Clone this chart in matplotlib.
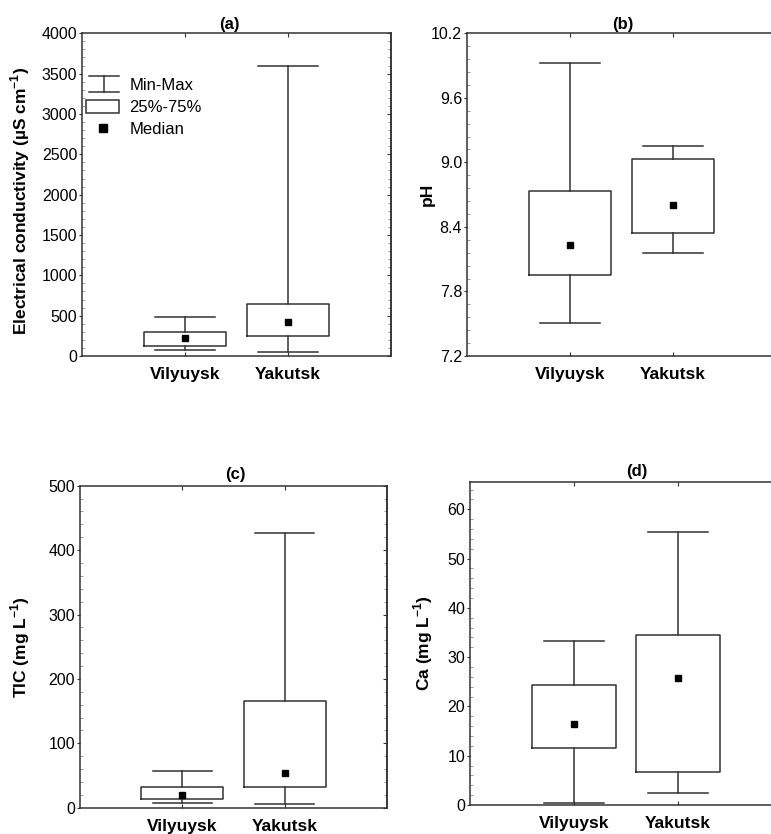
import matplotlib
matplotlib.use('Agg')
import matplotlib.pyplot as plt
from matplotlib.legend_handler import HandlerBase
from matplotlib.lines import Line2D
from matplotlib.patches import Rectangle
from matplotlib.ticker import MultipleLocator, AutoMinorLocator

plt.rcParams['font.family'] = ['Liberation Sans', 'DejaVu Sans']
plt.rcParams['mathtext.fontset'] = 'custom'
plt.rcParams['mathtext.rm'] = 'Liberation Sans'
plt.rcParams['mathtext.bf'] = 'Liberation Sans:bold'

### data
sites = ['Vilyuysk', 'Yakutsk']

ec_min = [70, 50]
ec_q1 = [124, 248]
ec_med = [219, 425]
ec_q3 = [297, 641]
ec_max = [480, 3595]

ph_min = [7.51, 8.16]
ph_q1 = [7.95, 8.34]
ph_med = [8.23, 8.60]
ph_q3 = [8.73, 9.03]
ph_max = [9.92, 9.15]

tic_min = [6.7, 6.2]
tic_q1 = [13.0, 31.7]
tic_med = [19.7, 53.4]
tic_q3 = [32.6, 165]
tic_max = [56.5, 427]

ca_min = [0.34, 2.4]
ca_q1 = [11.5, 6.6]
ca_med = [16.5, 25.8]
ca_q3 = [24.3, 34.5]
ca_max = [33.3, 55.3]

LC = '#333333'
TICKSIZE = 11.5
LABELSIZE = 12.5


class WhiskerHandler(HandlerBase):
  """ Draw the I-shaped Min-Max symbol in the legend """
  def create_artists(self, legend, orig_handle, xdescent, ydescent,
                     width, height, fontsize, trans):
    x0, x1 = -xdescent + 0.08 * width, -xdescent + width
    y0, y1 = -ydescent - 0.1 * height, -ydescent + 1.1 * height
    xm = (x0 + x1) / 2
    arts = [Line2D([x0, x1], [y0, y0]), Line2D([x0, x1], [y1, y1]),
            Line2D([xm, xm], [y0, y1])]
    for a in arts:
      a.set_color(LC)
      a.set_linewidth(1.1)
      a.set_transform(trans)
    return arts


def draw_panel(ax, lo, q1, med, q3, hi):
  stats = []
  for i in range(len(sites)):
    stats.append({'whislo': lo[i], 'q1': q1[i], 'med': med[i],
                  'q3': q3[i], 'whishi': hi[i], 'label': sites[i]})
  ax.bxp(stats, positions=[1, 2], widths=0.8, capwidths=0.58,
         showfliers=False,
         boxprops=dict(color=LC, linewidth=1.1),
         whiskerprops=dict(color=LC, linewidth=1.1),
         capprops=dict(color=LC, linewidth=1.1),
         medianprops=dict(linewidth=0))
  ax.plot([1, 2], med, 's', color='black', markersize=4, linestyle='none')
  ax.set_xlim(0, 3)
  ax.set_xticks([1, 2])
  ax.set_xticklabels(sites, fontweight='bold', fontsize=LABELSIZE)
  ax.tick_params(axis='x', direction='in', length=3, top=True, pad=8,
                 color=LC)
  ax.tick_params(axis='y', which='major', direction='out', length=2.5,
                 pad=1, labelsize=TICKSIZE, color=LC)
  ax.tick_params(axis='y', which='minor', direction='in', length=2,
                 color='#888888')
  ax.yaxis.set_minor_locator(AutoMinorLocator(5))
  for s in ax.spines.values():
    s.set_color(LC)
    s.set_linewidth(1.1)


def right_ticks(ax):
  # inward ticks on the right spine, no labels
  sec = ax.secondary_yaxis('right')
  sec.set_yticks(ax.get_yticks())
  sec.yaxis.set_minor_locator(AutoMinorLocator(5))
  sec.tick_params(which='major', direction='in', length=3, labelright=False,
                  color=LC)
  sec.tick_params(which='minor', direction='in', length=2, color='#888888')
  sec.spines['right'].set_color(LC)
  sec.spines['right'].set_linewidth(1.1)


fig = plt.figure(figsize=(7.71, 8.34), dpi=100)

ax_a = fig.add_axes([0.1064, 0.5731, 0.4008, 0.3870])
ax_b = fig.add_axes([0.6057, 0.5731, 0.4008, 0.3870])
ax_c = fig.add_axes([0.1038, 0.0315, 0.3980, 0.3861])
ax_d = fig.add_axes([0.6096, 0.0348, 0.4047, 0.3876])

# (a) electrical conductivity
draw_panel(ax_a, ec_min, ec_q1, ec_med, ec_q3, ec_max)
ax_a.set_ylim(0, 4000)
ax_a.yaxis.set_major_locator(MultipleLocator(500))
ax_a.set_ylabel(r'Electrical conductivity (µS cm$^{\mathbf{-1}}$)',
                fontweight='bold', fontsize=LABELSIZE)
ax_a.yaxis.set_label_coords(-0.162, 0.48)
ax_a.set_title('(a)', fontweight='bold', fontsize=12, pad=3, x=0.476)
right_ticks(ax_a)

hw = Line2D([], [])
hb = Rectangle((0, 0), 1, 1, facecolor='white', edgecolor=LC, linewidth=1.1)
hm = Line2D([], [], marker='s', color='black', markersize=5.5, linestyle='none')
ax_a.legend([hw, hb, hm], ['Min-Max', '25%-75%', 'Median'],
            handler_map={hw: WhiskerHandler()},
            loc='upper left', bbox_to_anchor=(0.013, 0.862), frameon=False,
            borderpad=0, borderaxespad=0, handlelength=2.0, handleheight=0.85,
            handletextpad=0.6, labelspacing=0.38, fontsize=12)

# (b) pH
draw_panel(ax_b, ph_min, ph_q1, ph_med, ph_q3, ph_max)
ax_b.set_ylim(7.2, 10.2)
ax_b.set_yticks([7.2, 7.8, 8.4, 9.0, 9.6, 10.2])
ax_b.set_yticklabels(['7.2', '7.8', '8.4', '9.0', '9.6', '10.2'])
ax_b.set_ylabel('pH', fontweight='bold', fontsize=LABELSIZE)
ax_b.yaxis.set_label_coords(-0.104, 0.5)
ax_b.set_title('(b)', fontweight='bold', fontsize=12, pad=3, x=0.505)

# (c) TIC
draw_panel(ax_c, tic_min, tic_q1, tic_med, tic_q3, tic_max)
ax_c.set_ylim(0, 500)
ax_c.yaxis.set_major_locator(MultipleLocator(100))
ax_c.set_ylabel(r'TIC (mg L$^{\mathbf{-1}}$)', fontweight='bold',
                fontsize=LABELSIZE)
ax_c.yaxis.set_label_coords(-0.157, 0.5)
ax_c.set_title('(c)', fontweight='bold', fontsize=12, pad=5, x=0.505)
right_ticks(ax_c)

# (d) Ca
draw_panel(ax_d, ca_min, ca_q1, ca_med, ca_q3, ca_max)
ax_d.set_ylim(0, 65.6)
ax_d.yaxis.set_major_locator(MultipleLocator(10))
ax_d.set_ylabel(r'Ca (mg L$^{\mathbf{-1}}$)', fontweight='bold',
                fontsize=LABELSIZE)
ax_d.yaxis.set_label_coords(-0.112, 0.5)
ax_d.set_title('(d)', fontweight='bold', fontsize=12, pad=4, x=0.535)

plt.savefig('out.png', dpi=100)
